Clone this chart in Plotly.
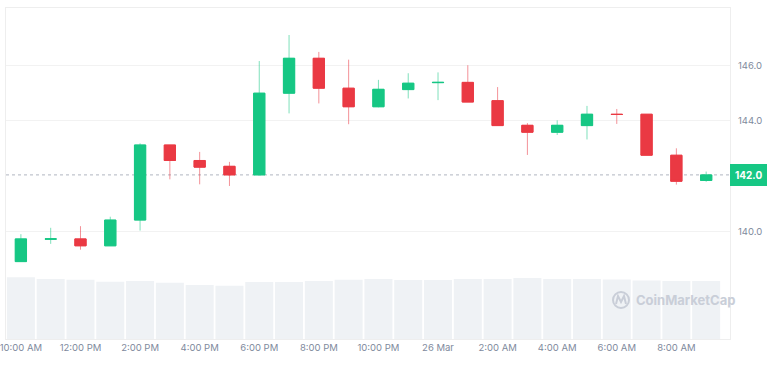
import plotly.graph_objects as go
import pandas as pd

# ---- data ----
times = pd.date_range("2024-03-25 10:00", periods=24, freq="h")
open_ = [138.91, 139.72, 139.73, 139.48, 140.41, 143.12, 142.56, 142.35, 142.04, 144.99,
         146.25, 145.17, 144.50, 145.12, 145.37, 145.38, 144.72, 143.83, 143.58, 143.82,
         144.23, 144.23, 142.75, 141.84]
high = [139.90, 140.13, 140.19, 140.53, 143.18, 143.12, 142.87, 142.51, 146.15, 147.09,
        146.48, 146.20, 145.47, 145.71, 145.74, 146.00, 145.21, 143.91, 144.01, 144.53,
        144.42, 144.23, 143.00, 142.16]
low = [138.91, 139.55, 139.34, 139.48, 140.03, 141.88, 141.70, 141.64, 142.04, 144.26,
       144.62, 143.87, 144.48, 144.80, 144.74, 144.67, 143.82, 142.76, 143.48, 143.32,
       143.88, 142.75, 141.69, 141.79]
close = [139.73, 139.73, 139.48, 140.41, 143.12, 142.56, 142.32, 142.04, 144.99, 146.25,
         145.17, 144.50, 145.13, 145.35, 145.38, 144.67, 143.82, 143.58, 143.83, 144.23,
         144.22, 142.75, 141.81, 142.04]
volume = [61.7, 60.0, 59.3, 57.3, 58.0, 56.3, 54.0, 53.3, 57.0, 57.0,
          58.0, 59.3, 60.0, 59.0, 59.0, 60.0, 60.0, 61.0, 60.0, 60.0,
          59.5, 58.5, 58.0, 58.0]
tick_vals = pd.date_range("2024-03-25 10:00", periods=12, freq="2h")
tick_text = ["10:00 AM", "12:00 PM", "2:00 PM", "4:00 PM", "6:00 PM", "8:00 PM",
             "10:00 PM", "26 Mar", "2:00 AM", "4:00 AM", "6:00 AM", "8:00 AM"]
price_ticks = [140, 144, 146]

GREEN = "#16c784"
RED = "#ea3943"
GREEN_W = "rgba(22,199,132,0.55)"
RED_W = "rgba(234,57,67,0.55)"
TXT = "#808a9d"
FONT = "Inter, Roboto, sans-serif"

fig = go.Figure()

# volume bars
hour_ms = 3600 * 1000
fig.add_trace(go.Bar(
    x=times, y=volume, yaxis="y2", width=[0.94 * hour_ms] * len(times),
    marker=dict(color="#eff2f5", line=dict(width=0)), hoverinfo="skip", showlegend=False,
))

# wicks (lighter)
fig.add_trace(go.Candlestick(
    x=times, open=open_, high=high, low=low, close=close,
    increasing=dict(line=dict(color=GREEN_W, width=1), fillcolor=GREEN_W),
    decreasing=dict(line=dict(color=RED_W, width=1), fillcolor=RED_W),
    whiskerwidth=0, showlegend=False, hoverinfo="skip",
))
# bodies (solid)
body_hi = [max(o, c) for o, c in zip(open_, close)]
body_lo = [min(o, c) for o, c in zip(open_, close)]
fig.add_trace(go.Candlestick(
    x=times, open=open_, high=body_hi, low=body_lo, close=close,
    increasing=dict(line=dict(color=GREEN, width=1), fillcolor=GREEN),
    decreasing=dict(line=dict(color=RED, width=1), fillcolor=RED),
    whiskerwidth=0, showlegend=False,
))

last = close[-1]

fig.update_layout(
    width=780, height=365,
    margin=dict(l=6, r=50, t=8, b=26, autoexpand=False),
    paper_bgcolor="white", plot_bgcolor="white",
    font=dict(family=FONT, size=9.5, color=TXT),
    boxgap=0.46,
    xaxis=dict(
        type="date", automargin=False,
        range=[times[0] - pd.Timedelta(minutes=30), times[-1] + pd.Timedelta(minutes=48)],
        tickvals=tick_vals, ticktext=tick_text,
        showgrid=False, zeroline=False, rangeslider=dict(visible=False),
        showline=True, linecolor="#eeeeee", linewidth=1, mirror=True,
        ticks="", tickfont=dict(size=9.5, color=TXT), ticklabeloverflow="allow",
    ),
    yaxis=dict(
        side="right", range=[136.116, 148.065], tickvals=price_ticks, automargin=False,
        tickformat=".1f", showgrid=True, gridcolor="#f2f2f2", gridwidth=1,
        zeroline=False, showline=True, linecolor="#eeeeee", linewidth=1, mirror=True,
        ticks="", ticklabelstandoff=5, tickfont=dict(size=9.5, color=TXT),
    ),
    yaxis2=dict(
        overlaying="y", range=[0, 331], visible=False, showgrid=False,
    ),
)

# current price dotted line
fig.add_shape(type="line", xref="paper", yref="y", x0=0, x1=1, y0=last, y1=last,
              line=dict(color="#b0b6c0", width=1, dash="dot"), layer="below")

# current price label
fig.add_annotation(
    xref="paper", yref="y", x=1, y=last, xanchor="left", yanchor="middle",
    text=f"<b>{last:.1f}</b>", showarrow=False, bgcolor=GREEN, bordercolor=GREEN,
    borderpad=4, borderwidth=1, font=dict(color="white", size=10, family=FONT),
)

# watermark
WM = "#c9ced8"
def px2paper(px, py):
    return (px - 6) / 724, (339 - py) / 331
cx0, cy0 = px2paper(613, 292)
cx1, cy1 = px2paper(629, 308)
fig.add_shape(type="circle", xref="paper", yref="paper", x0=cx0, y0=cy1, x1=cx1, y1=cy0,
              line=dict(color=WM, width=2), layer="above")
pts = [px2paper(616, 304), px2paper(618, 296), px2paper(621, 302), px2paper(624, 296), px2paper(626, 304)]
path = "M " + " L ".join(f"{x},{y}" for x, y in pts)
fig.add_shape(type="path", xref="paper", yref="paper", path=path,
              line=dict(color=WM, width=2), layer="above")
tx, ty = px2paper(634, 300)
fig.add_annotation(xref="paper", yref="paper", x=tx, y=ty, xanchor="left", yanchor="middle",
                   text="<b>CoinMarketCap</b>", showarrow=False,
                   font=dict(color=WM, size=13, family=FONT))

fig.write_html("out.html", config={"displayModeBar": False},
               post_script="document.body.style.margin='0';")
